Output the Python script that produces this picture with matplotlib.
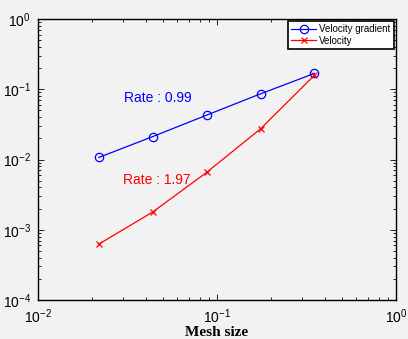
import matplotlib
matplotlib.use('Agg')
import matplotlib.pyplot as plt
import numpy as np

plt.rcParams['font.family'] = ['Liberation Sans', 'DejaVu Sans']
plt.rcParams['mathtext.fontset'] = 'custom'
plt.rcParams['mathtext.rm'] = 'Liberation Sans'

# data
mesh_size = [0.021875, 0.04375, 0.0875, 0.175, 0.35]
vel_grad_err = [0.0107, 0.0212, 0.0428, 0.086, 0.168]
vel_err = [6.25e-4, 1.79e-3, 6.55e-3, 0.0273, 0.158]
series_labels = ['Velocity gradient', 'Velocity']
rate_labels = ['Rate : 0.99', 'Rate : 1.97']

bg = '#f2f2f2'
fig = plt.figure(figsize=(4.08, 3.39), dpi=100, facecolor=bg)
ax = fig.add_axes([38/408, 39/339, 358/408, 281/339], facecolor=bg)

ax.loglog(mesh_size, vel_grad_err, '-o', color='#0000ff', lw=0.9,
          ms=6, mfc='none', mew=0.9, label=series_labels[0])
ax.loglog(mesh_size, vel_err, '-x', color='#ff0000', lw=0.9,
          ms=5, mew=0.9, label=series_labels[1])

ax.set_xlim(1e-2, 1e0)
ax.set_ylim(1e-4, 1e0)

# rate annotations
ax.text(0.0468, 0.0751, rate_labels[0], color='#0000ff', fontsize=10,
        ha='center', va='center')
ax.text(0.0462, 0.0051, rate_labels[1], color='#ff0000', fontsize=10,
        ha='center', va='center')

ax.tick_params(which='both', direction='in', top=True, right=True,
               width=0.6, labelsize=10, colors='black')
ax.tick_params(which='major', length=4, pad=5)
ax.tick_params(which='minor', length=2)
for s in ax.spines.values():
    s.set_linewidth(1.0)
    s.set_color('black')

ax.set_xlabel('Mesh size', family='Liberation Serif', fontweight='bold',
              fontsize=11, labelpad=0)

leg = ax.legend(loc='upper right', fontsize=7, handlelength=2.6,
                fancybox=False, framealpha=1, edgecolor='black',
                borderpad=0.3, labelspacing=0.15, handletextpad=0.3,
                borderaxespad=0.25)
leg.get_frame().set_linewidth(1.2)

fig.savefig('out.png', dpi=100, facecolor=bg)
